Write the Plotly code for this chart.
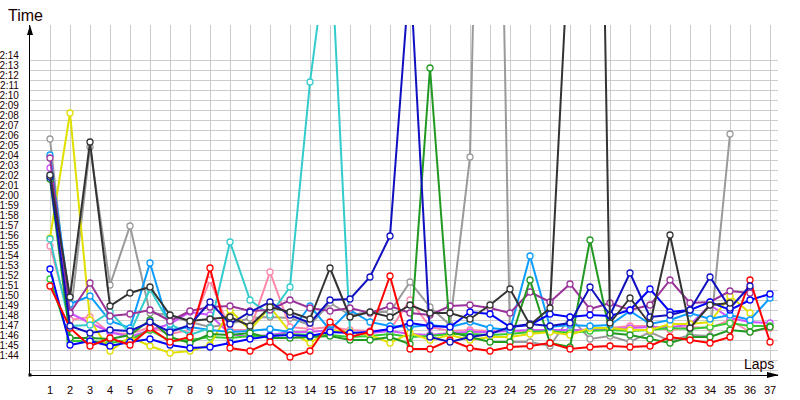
import plotly.graph_objects as go

laps = list(range(1, 38))

# lap times in seconds (e.g. 105.4 = 1:45.4); None = no lap recorded
red = [111.4, 107.2, 105.4, 106.2, 105.5, 107.2, 105.8, 106.3, 113.2, 105.2, 104.9, 105.8, 104.3, 104.9, 107.8, 106.3, 106.8, 112.4, 105.1, 105.1,
       106.0, 105.2, 104.9, 105.3, 105.4, 105.7, 105.1, 105.3, 105.4, 105.3, 105.4, 106.3, 106.0, 105.7, 106.3, 112.0, 105.8]
blue = [113.1, 105.5, 105.9, 105.4, 105.8, 106.1, 105.5, 105.2, 105.3, 105.7, 106.1, 106.4, 106.5, 106.4, 106.8, 106.7, 106.8, 107.1, 107.7, 107.4,
        107.3, 108.8, 108.6, 107.3, 107.5, 108.6, 108.3, 108.5, 108.4, 109.0, 111.1, 108.8, 109.0, 109.8, 109.0, 110.0, 110.6]
navy = [122.3, 107.4, 106.7, 107.0, 106.9, 107.8, 106.8, 107.5, 109.8, 107.6, 108.8, 109.8, 108.5, 107.7, 110.0, 110.1, 112.3, 116.4, 143.0, 106.3,
        105.8, 106.3, 106.6, 107.3, 107.6, 107.4, 107.7, 111.3, 108.5, 112.7, 108.3, 108.5, 109.0, 112.3, 109.2, 111.4, None]
green = [122.1, 106.2, 106.2, 106.1, 106.5, 108.0, 106.3, 105.7, 106.6, 106.5, 106.7, 106.2, 106.2, 106.3, 106.4, 106.0, 106.0, 106.3, 105.6, 133.2,
         106.8, 106.3, 105.8, 105.8, 112.0, 105.7, 105.3, 116.0, 106.7, 106.5, 106.1, 105.7, 106.3, 106.3, 107.0, 106.8, 107.3]
lime = [112.1, 105.9, 105.9, 105.7, 106.0, 107.0, 105.9, 106.0, 106.3, 106.2, 106.4, 106.4, 106.6, 106.5, 106.5, 106.3, 106.4, 106.6, 106.3, 106.4,
        106.6, 106.6, 106.5, 106.6, 106.8, 106.9, 106.7, 106.9, 107.0, 106.9, 107.0, 107.2, 107.1, 107.3, 107.7, 107.4, 107.4]
yellow = [116.2, 128.7, 108.0, 104.9, 106.3, 105.4, 104.7, 104.9, 105.5, 109.0, 107.0, 109.3, 106.8, 105.7, 107.0, 106.8, 106.5, 105.7, 106.7, 106.0,
          106.5, 106.0, 106.3, 106.3, 106.6, 106.8, 106.5, 107.2, 107.2, 107.0, 107.0, 107.6, 107.6, 107.8, 110.4, 108.7, None]
gray = [126.1, 108.0, 125.3, 111.5, 117.4, 108.7, 108.5, 107.8, 107.3, 107.6, 108.2, 108.3, 108.2, 107.5, 109.7, 108.5, 108.8, 108.8, 111.8, 109.3,
        107.5, 124.3, 215.0, 105.8, 105.8, 105.4, 108.3, 106.1, 106.4, 105.8, 106.8, 105.9, 106.5, 106.4, 126.6, None, None]
black = [122.5, 110.3, 125.8, 109.4, 110.7, 111.3, 108.5, 107.9, 108.1, 108.3, 107.4, 109.3, 108.8, 108.1, 113.2, 108.3, 108.8, 108.3, 109.5, 108.7,
         108.7, 108.1, 109.5, 111.1, 107.5, 109.2, 148.0, 227.0, 107.7, 110.2, 107.6, 116.5, 107.2, 109.5, 109.7, None, None]
lightblue = [124.5, 109.6, 110.4, 107.9, 107.2, 113.7, 107.0, 107.3, 107.0, 106.8, 106.9, 107.1, 106.8, 109.4, 107.0, 109.0, 107.8, 107.4, 107.3, 107.5,
             107.3, 107.8, 107.2, 107.0, 114.4, 107.3, 107.5, 107.4, 107.5, 108.9, 107.6, 108.0, 108.7, 108.1, 108.5, 108.0, 110.2]
cyan = [116.1, 107.4, 107.5, 108.8, 106.7, 111.1, 107.6, 106.5, 107.2, 115.8, 110.0, 108.5, 111.3, 131.8, 147.0, 106.7] + [None] * 21
purple = [124.2, 108.7, 111.7, 108.4, 108.6, 109.0, 107.9, 108.9, 109.3, 109.4, 108.9, 109.0, 110.0, 109.2, 108.9, 109.2, 108.7, 109.4, 108.7, 108.5,
          109.4, 109.5, 109.2, 108.7, 110.8, 109.8, 111.6, 109.1, 109.7, 109.0, 109.5, 112.0, 109.7, 109.8, 110.9, 110.7, None]
violet = [123.2, 108.7, 107.7, 106.8, 106.3, 107.0, 107.6, 108.8, 108.5, 106.6, 106.3, 106.5, 106.8, 106.8, 107.0, 106.7, 106.7, 106.9, 106.6, 106.5,
          106.7, 106.8, 106.8, 106.9, 107.0, 107.0, 107.0, 107.0, 107.1, 107.2, 107.3, 107.3, 107.5, 109.5, 108.2, 107.8, 107.7]
pink = [115.4, 108.0, 108.3, 106.7, 106.6, 107.3, 106.6, 107.0, 112.0, 107.0, 107.0, 112.8, 107.3, 107.1, 107.3, 107.0, 106.9, 107.0, 110.0, 107.3,
        106.9, 107.0, 106.9, 106.9, 106.8, 107.0, 106.9, 107.1, 107.2, 107.4, 107.4, 107.0, 107.3, 107.2, 108.0, 106.8, 107.2]

series = [
    ("gray", gray, "#9a9a9a"),
    ("pink", pink, "#ff88aa"),
    ("violet", violet, "#cc55ff"),
    ("lime", lime, "#33cc33"),
    ("yellow", yellow, "#e0e000"),
    ("lightblue", lightblue, "#0a9cff"),
    ("cyan", cyan, "#33cccc"),
    ("purple", purple, "#993399"),
    ("green", green, "#229922"),
    ("blue", blue, "#0000ff"),
    ("red", red, "#ff0000"),
    ("navy", navy, "#1010c0"),
    ("black", black, "#333333"),
]

y_tick_vals = list(range(103, 135))
y_tick_text = ["", "1:44", "1:45", "1:46", "1:47", "1:48", "1:49", "1:50", "1:51", "1:52", "1:53", "1:54", "1:55",
               "1:56", "1:57", "1:58", "1:59", "2:00", "2:01", "2:02", "2:03", "2:04", "2:05", "2:06", "2:07",
               "2:08", "2:09", "2:10", "2:11", "2:12", "2:13", "2:14"]

fig = go.Figure()
for name, vals, col in series:
    fig.add_trace(go.Scatter(
        x=laps, y=vals, mode="lines+markers", name=name,
        line=dict(color=col, width=2),
        marker=dict(symbol="circle", size=6, color="white", line=dict(color=col, width=1.3)),
        connectgaps=False,
    ))

W, H = 800, 400
ml, mr, mt, mb = 30, 22, 25, 25
pw, ph = W - ml - mr, H - mt - mb

def px(x):
    return (x - ml) / pw

def py(y):
    return (H - mb - y) / ph

shapes = [
    # y-axis arrowhead
    dict(type="path", xref="paper", yref="paper",
         path=f"M {px(30)} {py(25)} L {px(27)} {py(35)} L {px(33)} {py(35)} Z",
         fillcolor="black", line=dict(width=0)),
    # x-axis arrowhead
    dict(type="path", xref="paper", yref="paper",
         path=f"M {px(779)} {py(375)} L {px(767)} {py(372)} L {px(767)} {py(378)} Z",
         fillcolor="black", line=dict(width=0)),
    # origin square
    dict(type="rect", xref="paper", yref="paper",
         x0=px(28.5), x1=px(31.5), y0=py(376.5), y1=py(373.5),
         fillcolor="black", line=dict(width=0)),
]

fig.update_layout(
    width=W, height=H,
    margin=dict(l=ml, r=mr, t=mt, b=mb, pad=0, autoexpand=False),
    paper_bgcolor="white", plot_bgcolor="white",
    showlegend=False,
    shapes=shapes,
    font=dict(family="Liberation Sans, Arial, sans-serif", color="#1a0000"),
    annotations=[
        dict(text="Time", xref="paper", yref="paper", x=px(6), y=py(15), xanchor="left", yanchor="middle",
             showarrow=False, font=dict(size=16, color="#1a0000")),
        dict(text="Laps", xref="paper", yref="paper", x=px(759), y=py(364), xanchor="center", yanchor="middle",
             showarrow=False, font=dict(size=14, color="#1a0000")),
    ],
)
fig.update_xaxes(
    range=[0, 37.4], tickvals=laps, ticktext=[str(l) for l in laps],
    showgrid=True, gridcolor="#cccccc", gridwidth=1,
    showline=True, linecolor="black", linewidth=1.3,
    zeroline=False, ticks="", tickfont=dict(size=11),
    ticklabelstandoff=5, automargin=False,
)
fig.update_yaxes(
    range=[102.5, 137.5], tickvals=y_tick_vals, ticktext=y_tick_text,
    showgrid=True, gridcolor="#cccccc", gridwidth=1,
    showline=True, linecolor="black", linewidth=1.3,
    zeroline=False, ticks="", tickfont=dict(size=10),
    ticklabelshift=-5, ticklabelstandoff=8, automargin=False,
)

fig.write_html("out.html")
